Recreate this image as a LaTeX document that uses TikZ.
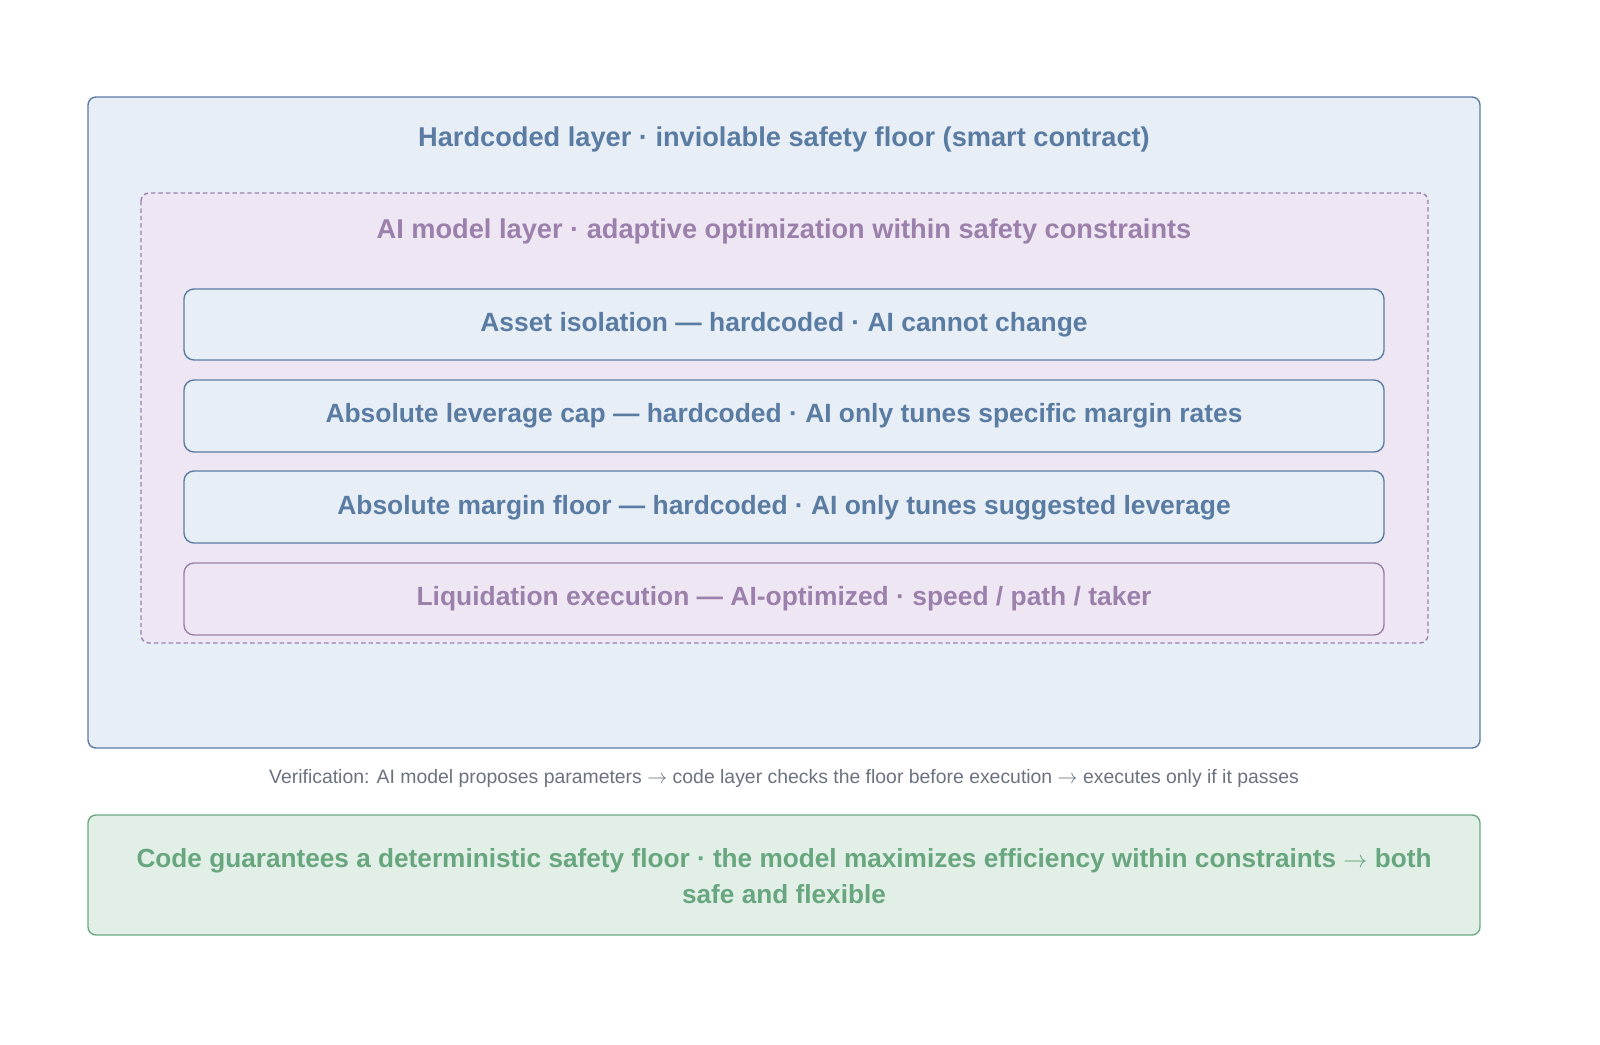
\documentclass[tikz,border=0pt]{standalone}
\usepackage{fontspec}
\setmainfont{Liberation Sans}
\definecolor{bstroke}{HTML}{5B7CA3}
\definecolor{bfill}{HTML}{E7EEF6}
\definecolor{btext}{HTML}{5A7CA2}
\definecolor{pstroke}{HTML}{9A80AA}
\definecolor{pfill}{HTML}{EEE7F3}
\definecolor{ptext}{HTML}{9B80AB}
\definecolor{gstroke}{HTML}{6BAA84}
\definecolor{gfill}{HTML}{E2EFE7}
\definecolor{gtext}{HTML}{67A67F}
\definecolor{graytext}{HTML}{6B7280}
\newcommand{\arr}{\ensuremath{\rightarrow}}
\tikzset{
  x=0.5pt, y=-0.5pt,
  outerbox/.style={draw=bstroke, fill=bfill, line width=0.7pt, rounded corners=4pt},
  aibox/.style={draw=pstroke, fill=pfill, line width=0.7pt, dash pattern=on 2.2pt off 1.5pt, rounded corners=4pt},
  hardrow/.style={draw=bstroke, fill=bfill, line width=0.7pt, rounded corners=5pt},
  airow/.style={draw=pstroke, fill=pfill, line width=0.7pt, rounded corners=5pt},
  greenbox/.style={draw=gstroke, fill=gfill, line width=0.7pt, rounded corners=4pt},
  btitle/.style={text=btext, font=\bfseries\fontsize{13.6}{16}\selectfont},
  ptitle/.style={text=ptext, font=\bfseries\fontsize{13.6}{16}\selectfont},
  brow/.style={text=btext, font=\bfseries\fontsize{13.2}{16}\selectfont},
  prow/.style={text=ptext, font=\bfseries\fontsize{13.2}{16}\selectfont},
  gtitle/.style={text=gtext, font=\bfseries\fontsize{13.1}{18}\selectfont, align=center},
  note/.style={text=graytext, font=\fontsize{9.7}{11}\selectfont},
}
\begin{document}
\begin{tikzpicture}
\useasboundingbox (0,0) rectangle (1600,1044);
\fill[white] (0,0) rectangle (1600,1044);
% outer hardcoded layer
\draw[outerbox] (88,97) rectangle (1480,748);
\node[btitle] (hardtitle) at (784,139) {Hardcoded layer · inviolable safety floor (smart contract)};
% AI layer
\draw[aibox] (141,193) rectangle (1428,643);
\node[ptitle] (aititle) at (784,231) {AI model layer · adaptive optimization within safety constraints};
% rows
\draw[hardrow] (184,289) rectangle (1384,360);
\node[brow] (row1) at (784,325) {Asset isolation — hardcoded · AI cannot change};
\draw[hardrow] (184,380) rectangle (1384,452);
\node[brow] (row2) at (784,416) {Absolute leverage cap — hardcoded · AI only tunes specific margin rates};
\draw[hardrow] (184,471) rectangle (1384,543);
\node[brow] (row3) at (784,508) {Absolute margin floor — hardcoded · AI only tunes suggested leverage};
\draw[airow] (184,563) rectangle (1384,635);
\node[prow] (row4) at (784,599) {Liquidation execution — AI-optimized · speed / path / taker};
% verification note
\node[note] (verif) at (784,778) {Verification: AI model proposes parameters \arr\ code layer checks the floor before execution \arr\ executes only if it passes};
% green conclusion
\draw[greenbox] (88,815) rectangle (1480,935);
\node[gtitle] (concl) at (784,876) {Code guarantees a deterministic safety floor · the model maximizes efficiency within constraints \arr\ both\\safe and flexible};
\end{tikzpicture}
\end{document}
